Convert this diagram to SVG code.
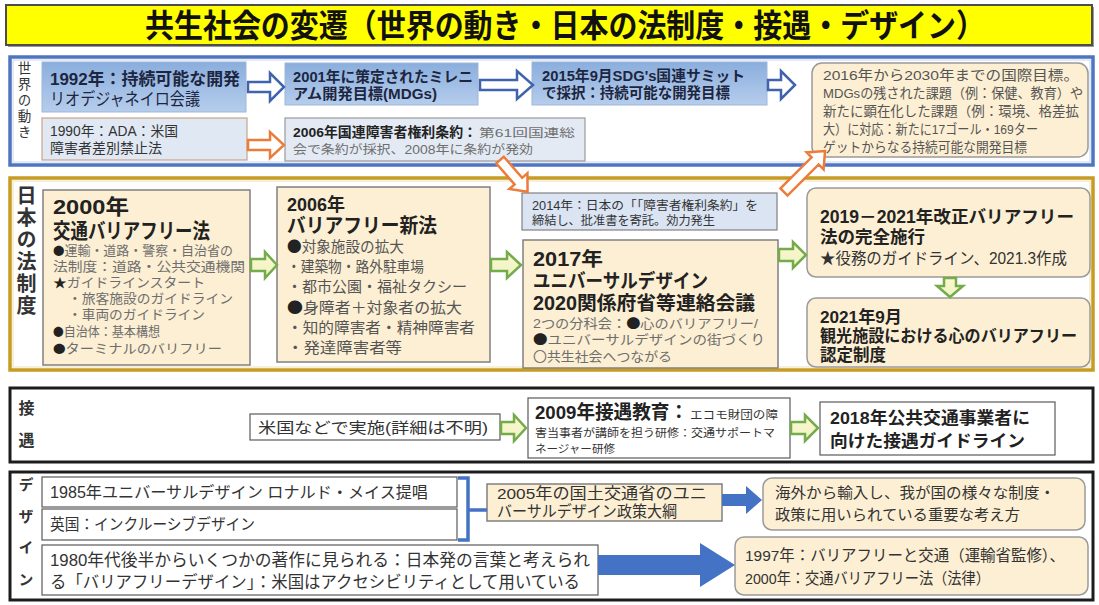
<svg xmlns="http://www.w3.org/2000/svg" width="1099" height="605" viewBox="0 0 1099 605">
<defs>
<linearGradient id="gBlue" x1="0" y1="0" x2="0" y2="1"><stop offset="0" stop-color="#8aaedd"/><stop offset="1" stop-color="#b6cdec"/></linearGradient>
<linearGradient id="gGreen" x1="0" y1="0" x2="0" y2="1"><stop offset="0" stop-color="#fdf7cf"/><stop offset="1" stop-color="#eef3c4"/></linearGradient>
</defs>
<style>
text{font-family:"Liberation Sans","Noto Sans CJK JP","Noto Sans CJK SC",sans-serif;fill:#222}
.j{font-family:"Noto Sans CJK JP","Noto Sans CJK SC",sans-serif}
.b{font-weight:700}
.g{fill:#6e6e6e}
.g2{fill:#555}
.d{fill:#333}
.nv{fill:#1d2640}
.vert{writing-mode:vertical-rl;text-anchor:start;fill:#333}
.tan{fill:#fcefd3;stroke:#808080;stroke-width:1.5}
.rtan{fill:#fcefd3;stroke:#9a9a9a;stroke-width:1.5}
.bbox{fill:url(#gBlue);stroke:#9fb6d6;stroke-width:1}
.wbox{fill:#fff;stroke:#5a5a5a;stroke-width:1.2}
.arB{fill:#fff;stroke:#3f63ad;stroke-width:2.5}
.arO{fill:#fff;stroke:#ec7c3a;stroke-width:2.5}
.arG{fill:url(#gGreen);stroke:#74ac4c;stroke-width:2.5}
.arF{fill:#4472c4}
.frame{fill:none}
</style>
<rect x="0" y="0" width="1099" height="605" fill="#fff"/>

<g id="title">
<rect x="8" y="7" width="1086" height="40" fill="#9a9a9a"/>
<rect x="6" y="5" width="1086" height="40" fill="#ffff00" stroke="#4d4d4d" stroke-width="2"/>
<text x="565" y="37" text-anchor="middle" font-size="32" class="b" textLength="840" lengthAdjust="spacingAndGlyphs" style="fill:#111">共生社会の変遷（世界の動き・日本の法制度・接遇・デザイン）</text>
</g>

<g id="sec-world">
<rect x="10" y="57" width="1083" height="108" class="frame" stroke="#4f74c2" stroke-width="3.5"/>
<rect x="13" y="60" width="1077" height="102" class="frame" stroke="#c9d8f0" stroke-width="1"/>
<text x="23" y="61" font-size="13.5" class="vert" letter-spacing="2.5">世界の動き</text>
</g>
<g id="sec-law">
<rect x="10" y="178" width="1083" height="192" class="frame" stroke="#c69c22" stroke-width="3.5"/>
<rect x="13" y="181" width="1077" height="186" class="frame" stroke="#efe0b0" stroke-width="1"/>
<text x="25" y="185" font-size="20" class="vert b" letter-spacing="2">日本の法制度</text>
</g>
<g id="sec-service">
<rect x="10" y="388" width="1083" height="74" class="frame" stroke="#1c1c1c" stroke-width="3"/>
<text x="25" y="400" font-size="16" class="vert b" letter-spacing="16">接遇</text>
</g>
<g id="sec-design">
<rect x="10" y="472" width="1083" height="128" class="frame" stroke="#1c1c1c" stroke-width="3"/>
<text x="25" y="477" font-size="15" class="vert b" letter-spacing="16.5">デザイン</text>
</g>

<!-- World nodes -->
<g id="n1992">
<rect x="42" y="62" width="204" height="50" class="bbox"/>
<text font-size="17" class="nv"><tspan x="50" y="85" class="b" textLength="190" lengthAdjust="spacingAndGlyphs">1992年：持続可能な開発</tspan><tspan x="50" y="105" textLength="150" lengthAdjust="spacingAndGlyphs">リオデジャネイロ会議</tspan></text>
</g>
<g id="n1990">
<rect x="42" y="118" width="205" height="42" fill="#e0e8f3" stroke="#c9a48a" stroke-width="1.2"/>
<text font-size="14" class="d"><tspan x="50" y="136" textLength="128" lengthAdjust="spacingAndGlyphs">1990年：ADA：米国</tspan><tspan x="50" y="153" textLength="112" lengthAdjust="spacingAndGlyphs">障害者差別禁止法</tspan></text>
</g>
<g id="n2001">
<rect x="285" y="63" width="193" height="42" class="bbox"/>
<text font-size="14.5" class="b nv"><tspan x="293" y="82" textLength="180" lengthAdjust="spacingAndGlyphs">2001年に策定されたミレニ</tspan><tspan x="293" y="99" textLength="144" lengthAdjust="spacingAndGlyphs">アム開発目標(MDGs)</tspan></text>
</g>
<g id="n2006w">
<rect x="285" y="118" width="300" height="43" fill="#e3eaf4" stroke="#9a9a9a" stroke-width="1.2"/>
<text font-size="13.5"><tspan x="293" y="137" class="b" textLength="184" lengthAdjust="spacingAndGlyphs">2006年国連障害者権利条約：</tspan><tspan x="479" y="137" font-size="11.5" class="g" textLength="96" lengthAdjust="spacingAndGlyphs">第61回国連総</tspan><tspan x="293" y="154" font-size="12.5" class="g" textLength="240" lengthAdjust="spacingAndGlyphs">会で条約が採択、2008年に条約が発効</tspan></text>
</g>
<g id="n2015">
<rect x="532" y="62" width="235" height="43" class="bbox"/>
<text font-size="14.5" class="b nv"><tspan x="542" y="81" textLength="203" lengthAdjust="spacingAndGlyphs">2015年9月SDG's国連サミット</tspan><tspan x="542" y="98" textLength="188" lengthAdjust="spacingAndGlyphs">で採択：持続可能な開発目標</tspan></text>
</g>
<g id="n2016">
<rect x="812" y="63" width="276" height="94" rx="10" class="rtan"/>
<text font-size="13.5" class="g2"><tspan x="823" y="80" textLength="256" lengthAdjust="spacingAndGlyphs">2016年から2030年までの国際目標。</tspan><tspan x="823" y="98" textLength="260" lengthAdjust="spacingAndGlyphs">MDGsの残された課題（例：保健、教育）や</tspan><tspan x="823" y="116" textLength="256" lengthAdjust="spacingAndGlyphs">新たに顕在化した課題（例：環境、格差拡</tspan><tspan x="823" y="134" textLength="215" lengthAdjust="spacingAndGlyphs">大）に対応：新たに17ゴール・169ター</tspan><tspan x="823" y="152" textLength="204" lengthAdjust="spacingAndGlyphs">ゲットからなる持続可能な開発目標</tspan></text>
</g>

<!-- Law nodes -->
<g id="n2000">
<rect x="43" y="190" width="207" height="175" class="tan"/>
<text font-size="13" class="g"><tspan x="53" y="214" font-size="21" class="b" style="fill:#222" textLength="76" lengthAdjust="spacingAndGlyphs">2000年</tspan><tspan x="53" y="238" font-size="21" class="b" style="fill:#222" textLength="157" lengthAdjust="spacingAndGlyphs">交通バリアフリー法</tspan><tspan x="53" y="255" textLength="180" lengthAdjust="spacingAndGlyphs"><tspan class="j" font-size="11.5" style="fill:#222">●</tspan>運輸・道路・警察・自治省の</tspan><tspan x="53" y="271" textLength="192" lengthAdjust="spacingAndGlyphs">法制度：道路・公共交通機関</tspan><tspan x="53" y="287" textLength="152" lengthAdjust="spacingAndGlyphs"><tspan style="fill:#222">★</tspan>ガイドラインスタート</tspan><tspan x="68" y="303" textLength="165" lengthAdjust="spacingAndGlyphs">・旅客施設のガイドライン</tspan><tspan x="68" y="319" textLength="137" lengthAdjust="spacingAndGlyphs">・車両のガイドライン</tspan><tspan x="53" y="336" textLength="107" lengthAdjust="spacingAndGlyphs"><tspan class="j" font-size="11.5" style="fill:#222">●</tspan>自治体：基本構想</tspan><tspan x="53" y="353" textLength="169" lengthAdjust="spacingAndGlyphs"><tspan class="j" font-size="11.5" style="fill:#222">●</tspan>ターミナルのバリフリー</tspan></text>
</g>
<g id="n2006">
<rect x="277" y="187" width="213" height="175" class="tan"/>
<text font-size="15" class="g2"><tspan x="287" y="211" font-size="18" class="b" style="fill:#222" textLength="58" lengthAdjust="spacingAndGlyphs">2006年</tspan><tspan x="287" y="233" font-size="20" class="b" style="fill:#222" textLength="150" lengthAdjust="spacingAndGlyphs">バリアフリー新法</tspan><tspan x="287" y="252" textLength="117" lengthAdjust="spacingAndGlyphs"><tspan class="j" style="fill:#222">●</tspan>対象施設の拡大</tspan><tspan x="287" y="272" textLength="137" lengthAdjust="spacingAndGlyphs">・建築物・路外駐車場</tspan><tspan x="287" y="292" textLength="180" lengthAdjust="spacingAndGlyphs">・都市公園・福祉タクシー</tspan><tspan x="287" y="313" textLength="175" lengthAdjust="spacingAndGlyphs"><tspan class="j" style="fill:#222">●</tspan>身障者＋対象者の拡大</tspan><tspan x="287" y="333" textLength="188" lengthAdjust="spacingAndGlyphs">・知的障害者・精神障害者</tspan><tspan x="287" y="353" textLength="115" lengthAdjust="spacingAndGlyphs">・発達障害者等</tspan></text>
</g>
<g id="n2014">
<rect x="522" y="193" width="255" height="37" fill="#dbe4f3" stroke="#808080" stroke-width="1.2"/>
<text font-size="12" class="d"><tspan x="532" y="210" textLength="226" lengthAdjust="spacingAndGlyphs">2014年：日本の「「障害者権利条約」を</tspan><tspan x="532" y="225" textLength="183" lengthAdjust="spacingAndGlyphs">締結し、批准書を寄託。効力発生</tspan></text>
</g>
<g id="n2017">
<rect x="523" y="240" width="255" height="128" class="tan"/>
<text font-size="13" class="g"><tspan x="533" y="266" font-size="19.5" class="b" style="fill:#222" textLength="70" lengthAdjust="spacingAndGlyphs">2017年</tspan><tspan x="533" y="288" font-size="19.5" class="b" style="fill:#222" textLength="175" lengthAdjust="spacingAndGlyphs">ユニバーサルデザイン</tspan><tspan x="533" y="310" font-size="19.5" class="b" style="fill:#222" textLength="222" lengthAdjust="spacingAndGlyphs">2020関係府省等連絡会議</tspan><tspan x="533" y="328" textLength="225" lengthAdjust="spacingAndGlyphs">2つの分科会：<tspan class="j" style="fill:#222">●</tspan>心のバリアフリー/</tspan><tspan x="533" y="344" textLength="232" lengthAdjust="spacingAndGlyphs"><tspan class="j" style="fill:#222">●</tspan>ユニバーサルデザインの街づくり</tspan><tspan x="533" y="361" textLength="139" lengthAdjust="spacingAndGlyphs">〇共生社会へつながる</tspan></text>
</g>
<g id="n2019">
<rect x="807" y="188" width="283" height="89" rx="9" class="rtan"/>
<text font-size="17.5" class="b"><tspan x="820" y="223" textLength="254" lengthAdjust="spacingAndGlyphs">2019－2021年改正バリアフリー</tspan><tspan x="820" y="243" textLength="105" lengthAdjust="spacingAndGlyphs">法の完全施行</tspan><tspan x="820" y="264" font-size="16" font-weight="400" class="d" textLength="247" lengthAdjust="spacingAndGlyphs">★役務のガイドライン、2021.3作成</tspan></text>
</g>
<g id="n2021">
<rect x="807" y="298" width="283" height="69" rx="9" class="rtan"/>
<text font-size="16.5" class="b"><tspan x="820" y="323" font-size="17" textLength="82" lengthAdjust="spacingAndGlyphs">2021年9月</tspan><tspan x="820" y="342" textLength="257" lengthAdjust="spacingAndGlyphs">観光施設における心のバリアフリー</tspan><tspan x="820" y="361" textLength="66" lengthAdjust="spacingAndGlyphs">認定制度</tspan></text>
</g>

<!-- Service nodes -->
<g id="nUS">
<rect x="250" y="414" width="250" height="26" class="wbox"/>
<text x="258" y="433" font-size="15" class="d" textLength="230" lengthAdjust="spacingAndGlyphs">米国などで実施(詳細は不明)</text>
</g>
<g id="n2009">
<rect x="528" y="398" width="262" height="60" class="wbox"/>
<text font-size="11" class="d"><tspan x="535" y="419" font-size="19" class="b" style="fill:#222" textLength="153" lengthAdjust="spacingAndGlyphs">2009年接遇教育：</tspan><tspan x="690" y="419" textLength="88" lengthAdjust="spacingAndGlyphs">エコモ財団の障</tspan><tspan x="535" y="437" textLength="240" lengthAdjust="spacingAndGlyphs">害当事者が講師を担う研修：交通サポートマ</tspan><tspan x="535" y="453" textLength="80" lengthAdjust="spacingAndGlyphs">ネージャー研修</tspan></text>
</g>
<g id="n2018">
<rect x="820" y="402" width="235" height="53" class="wbox"/>
<text font-size="17" class="b"><tspan x="830" y="424" textLength="200" lengthAdjust="spacingAndGlyphs">2018年公共交通事業者に</tspan><tspan x="830" y="447" textLength="195" lengthAdjust="spacingAndGlyphs">向けた接遇ガイドライン</tspan></text>
</g>

<!-- Design nodes -->
<g id="n1985">
<rect x="42" y="477" width="415" height="30" class="wbox"/>
<text x="50" y="498" font-size="16" class="d" textLength="378" lengthAdjust="spacingAndGlyphs">1985年ユニバーサルデザイン ロナルド・メイス提唱</text>
</g>
<g id="nUK">
<rect x="42" y="509" width="415" height="31" class="wbox"/>
<text x="50" y="530" font-size="15.5" class="d" textLength="205" lengthAdjust="spacingAndGlyphs">英国：インクルーシブデザイン</text>
</g>
<g id="n1980">
<rect x="42" y="545" width="556" height="50" class="wbox"/>
<text font-size="16.5" class="d"><tspan x="50" y="566" textLength="540" lengthAdjust="spacingAndGlyphs">1980年代後半からいくつかの著作に見られる：日本発の言葉と考えられ</tspan><tspan x="50" y="588" textLength="530" lengthAdjust="spacingAndGlyphs">る「バリアフリーデザイン」：米国はアクセシビリティとして用いている</tspan></text>
</g>
<g id="n2005">
<rect x="487" y="484" width="235" height="37" class="tan"/>
<text font-size="15.5" class="d"><tspan x="497" y="499" textLength="210" lengthAdjust="spacingAndGlyphs">2005年の国土交通省のユニ</tspan><tspan x="497" y="517" textLength="180" lengthAdjust="spacingAndGlyphs">バーサルデザイン政策大綱</tspan></text>
</g>
<g id="nOverseas">
<rect x="763" y="478" width="322" height="52" rx="9" class="rtan"/>
<text font-size="15" class="d"><tspan x="775" y="498" textLength="280" lengthAdjust="spacingAndGlyphs">海外から輸入し、我が国の様々な制度・</tspan><tspan x="775" y="520" textLength="245" lengthAdjust="spacingAndGlyphs">政策に用いられている重要な考え方</tspan></text>
</g>
<g id="n1997">
<rect x="735" y="537" width="353" height="58" rx="9" class="rtan"/>
<text font-size="15.5" class="d"><tspan x="745" y="561" textLength="320" lengthAdjust="spacingAndGlyphs">1997年：バリアフリーと交通（運輸省監修）、</tspan><tspan x="745" y="584" textLength="245" lengthAdjust="spacingAndGlyphs">2000年：交通バリアフリー法（法律）</tspan></text>
</g>

<!-- Connectors -->
<g id="connectors">
<polygon class="arB" points="248,82 270,82 270,73 284,87 270,101 270,92 248,92"/>
<polygon class="arB" points="480,80 517,80 517,71 533,85 517,99 517,90 480,90"/>
<polygon class="arB" points="768,80 781,80 781,71 795,85 781,99 781,90 768,90"/>
<polygon class="arO" points="248,140 270,140 270,132 284,145 270,158 270,150 248,150"/>
<polygon class="arO" transform="translate(500,160) rotate(49)" points="0,-5 28,-5 28,-12 42,0 28,12 28,5 0,5"/>
<polygon class="arO" transform="translate(784,192) rotate(-45)" points="0,-5 44,-5 44,-12 58,0 44,12 44,5 0,5"/>
<polygon class="arG" points="251,259 265,259 265,252 277,265 265,278 265,271 251,271"/>
<polygon class="arG" points="491,259 507,259 507,252 521,265 507,278 507,271 491,271"/>
<polygon class="arG" points="779,249 793,249 793,242 806,255 793,268 793,261 779,261"/>
<polygon class="arG" points="944,278 956,278 956,286 963,286 950,297 937,286 944,286"/>
<polygon class="arG" points="501,422 514,422 514,415 526,428 514,441 514,434 501,434"/>
<polygon class="arG" points="791,422 805,422 805,415 818,428 805,441 805,434 791,434"/>
<path d="M458 478 L468 478 L468 540 L458 540 M468 510 L487 510" fill="none" stroke="#4472c4" stroke-width="3.5"/>
<polygon class="arF" points="722,494 746,494 746,486 762,500 746,514 746,506 722,506"/>
<polygon class="arF" points="598,555 700,555 700,543 735,565 700,587 700,575 598,575"/>
</g>
</svg>
